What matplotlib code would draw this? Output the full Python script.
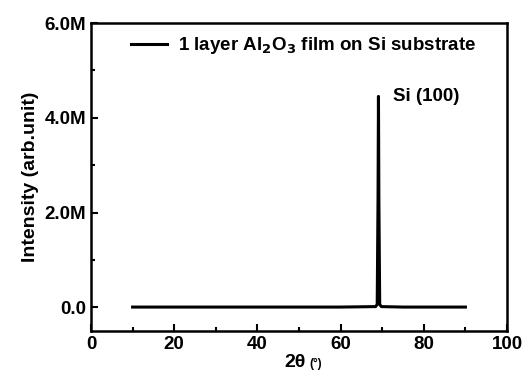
import matplotlib.pyplot as plt
from matplotlib.ticker import MultipleLocator, FuncFormatter

# XRD pattern
two_theta = [10, 60, 68.4, 68.8, 69.0, 69.1, 69.2, 69.4, 69.8, 75, 90]
intensity = [5e3, 5e3, 1.5e4, 6e4, 2.3e6, 4.45e6, 2.3e6, 6e4, 1.5e4, 5e3, 5e3]
peak_label = "Si (100)"
series_label = r"1 layer Al$_\mathbf{2}$O$_\mathbf{3}$ film on Si substrate"

plt.rcParams['font.family'] = ['Liberation Sans', 'DejaVu Sans']
plt.rcParams['font.weight'] = 'bold'
plt.rcParams['mathtext.default'] = 'bf'

fig = plt.figure(figsize=(5.23, 3.74), dpi=100)
ax = fig.add_axes([91 / 523, 1 - 331 / 374, 416 / 523, 308 / 374])

ax.plot(two_theta, intensity, color='black', lw=2.2, label=series_label)
ax.set_xlim(0, 100)
ax.set_ylim(-0.5e6, 6e6)
ax.xaxis.set_major_locator(MultipleLocator(20))
ax.xaxis.set_minor_locator(MultipleLocator(10))
ax.yaxis.set_major_locator(MultipleLocator(2e6))
ax.yaxis.set_minor_locator(MultipleLocator(1e6))
ax.yaxis.set_major_formatter(FuncFormatter(lambda v, p: "0.0" if v == 0 else f"{v/1e6:.1f}M"))
ax.tick_params(which='both', direction='in', width=1.5, labelsize=13.5)
ax.tick_params(which='major', length=5)
ax.tick_params(which='minor', length=3)
for s in ax.spines.values():
    s.set_linewidth(1.8)

ax.text(72.5, 4.45e6, peak_label, fontsize=13.5, fontweight='bold', va='center')
ax.set_ylabel("Intensity (arb.unit)", fontsize=14, fontweight='bold', labelpad=4)
ax.set_xlabel("2θ", fontsize=14, fontweight='bold', labelpad=0)
ax.xaxis.set_label_coords(0.49, -0.075)
ax.annotate("(°)", xy=(1, 0), xycoords=ax.xaxis.label, xytext=(3, 1),
            textcoords='offset points', fontsize=8.5, fontweight='bold',
            va='bottom', ha='left')

leg = ax.legend(loc='upper left', bbox_to_anchor=(0.056, 1.015), frameon=False,
                fontsize=13.5, handlelength=1.9, handletextpad=0.6)

fig.savefig("out.png", dpi=100)
